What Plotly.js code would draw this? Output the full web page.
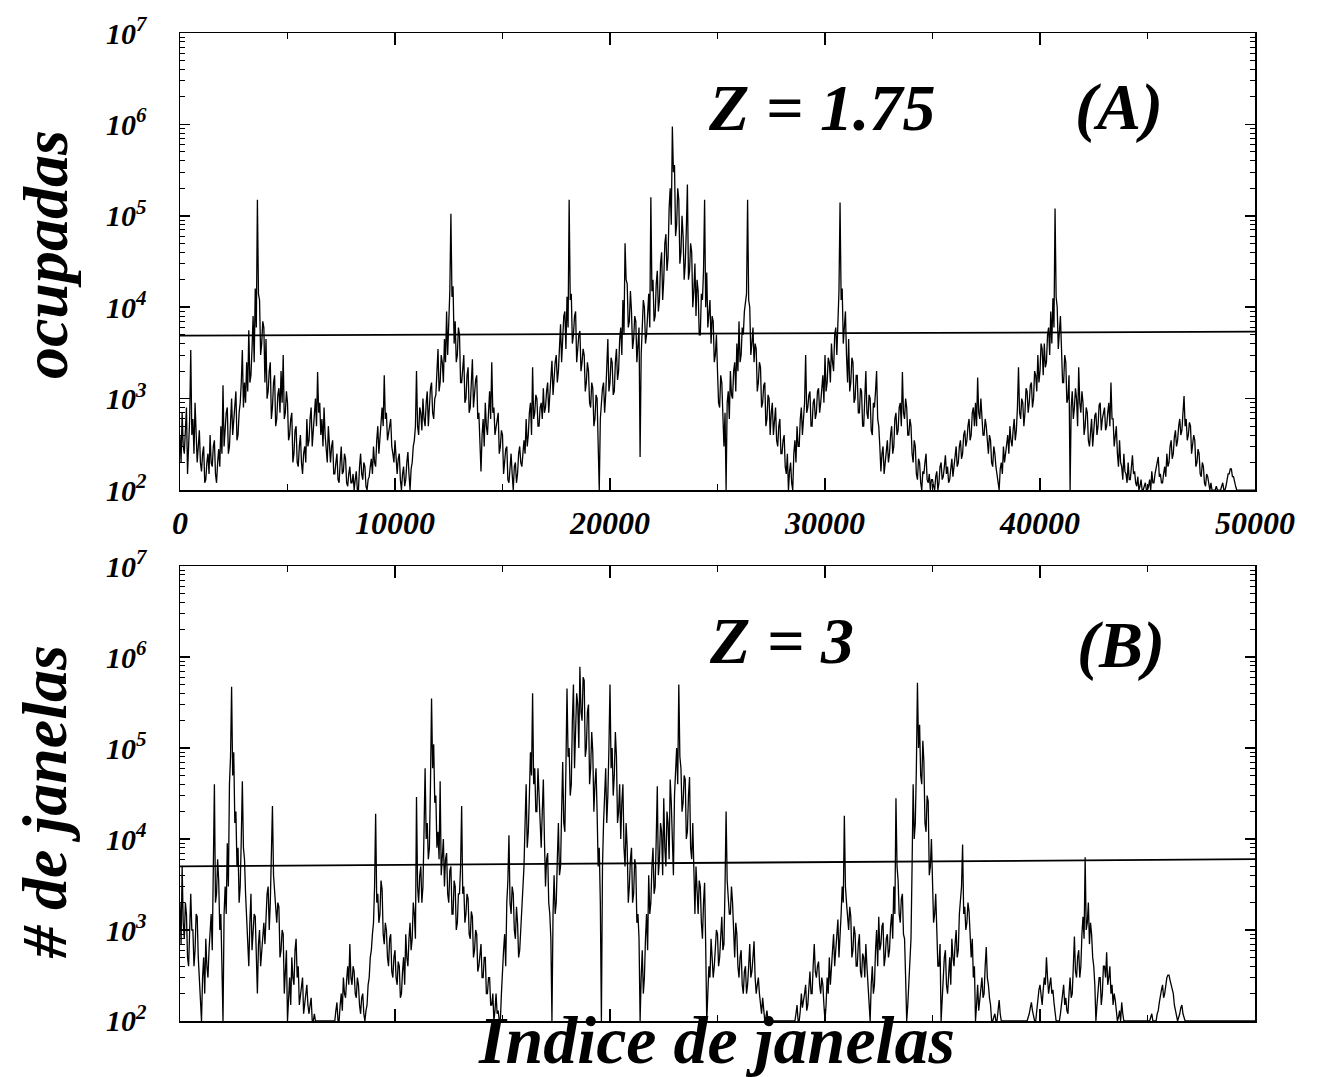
<!DOCTYPE html>
<html>
<head>
<meta charset="utf-8">
<script src="https://cdn.plot.ly/plotly-3.0.1.min.js"></script>
<style>html,body{margin:0;padding:0;background:#fff;}</style>
</head>
<body>
<div id="chart" style="width:1323px;height:1077px;"></div>
<script>
// Window index of first value and spacing between windows
const windowStart = 0;
const windowStep = 50;

// Panel A: Z = 1.75 (one row per 1000 windows)
const countsA = [
400,200,700,300,250,500,800,150,300,600,3400,400,600,250,900,400,200,300,450,200,
160,250,300,120,130,200,250,150,400,200,180,300,350,150,120,200,280,180,500,250,
1400,300,500,700,800,250,300,600,1000,400,600,900,1200,350,400,700,900,1500,3400,800,
1500,900,2500,1200,5600,1500,1800,3500,8000,2500,16000,6000,150000,14000,12000,3000,4000,7000,6000,1500,
4500,1000,1200,2000,2500,600,800,1500,1800,500,600,1100,1300,700,2000,900,3000,600,700,1200,
900,350,400,600,700,200,250,450,500,200,180,300,400,200,150,250,300,200,600,300,
350,600,800,300,500,700,1000,500,1950,700,900,400,600,300,800,400,300,200,500,250,
200,300,350,150,150,200,250,130,120,200,300,150,160,250,220,120,110,150,180,120,
120,150,100,130,160,100,100,180,250,150,130,200,180,110,100,130,140,180,220,150,
300,200,180,350,500,250,350,600,800,500,1800,600,700,350,400,500,600,300,250,200,
350,200,150,220,250,130,100,150,180,110,130,200,260,150,100,170,200,300,350,500,
2000,500,400,800,700,450,1000,600,500,900,1200,500,800,1300,1500,700,600,1000,1100,2000,
3500,1200,1500,3000,2500,1500,4500,2500,9000,3000,6000,15000,105000,13000,17000,4000,7000,2500,3000,6000,
5000,1500,1500,2500,3000,900,1000,1800,2200,700,800,1500,2700,800,1200,1600,1800,600,700,400,
160,400,600,300,900,500,400,700,1200,600,2500,700,800,400,500,650,700,250,300,450,
400,150,200,280,300,130,120,200,250,150,100,180,200,120,150,250,300,200,180,250,
350,250,600,300,400,700,900,400,2200,600,700,1100,1000,500,500,800,900,600,1300,700,
800,1200,1500,700,1000,1800,2600,1100,1800,2500,3000,1500,2000,4000,6500,2500,4000,8000,9000,3500,
13000,6000,150000,12000,14000,4000,5000,8000,9000,2500,3500,5000,5500,2000,2500,3500,3000,1200,1500,2500,
2000,900,800,1500,1300,500,600,1100,1000,400,100,600,900,1300,1500,700,1100,2000,4500,1200,
1500,2800,2500,1100,1200,2500,3500,1600,2000,4500,6000,3000,12000,5000,50000,20000,18000,6000,7000,15000,
9000,3500,4500,8000,7000,2500,3500,6000,230,3000,6000,12000,10000,4000,5000,9000,14000,6000,160000,15000,
20000,7000,8000,18000,25000,9000,12000,30000,40000,12000,20000,50000,63000,25000,35000,120000,200000,80000,950000,300000,
360000,60000,80000,200000,150000,30000,40000,100000,60000,20000,30000,70000,220000,20000,25000,50000,40000,10000,15000,30000,
8000,20000,15000,5000,5000,14000,12000,25000,150000,10000,24000,6000,9000,12000,4000,8000,7000,2500,3000,5000,
2000,900,800,1800,1500,500,300,700,100,900,1200,600,2000,1100,1000,2000,2500,1200,4000,2000,
7000,2500,3000,6000,5000,9000,11000,14000,150000,12000,10000,3000,4000,6000,2500,4000,3500,1200,1500,2500,
2200,800,900,1400,1500,500,600,1100,1000,400,700,900,400,600,800,350,300,500,600,250,
250,350,400,180,150,250,100,160,200,120,100,250,350,200,500,300,300,600,800,400,
600,900,3000,700,800,1100,1200,500,500,900,1000,600,700,1200,1300,700,900,1500,1800,900,
3000,1200,1500,2800,2500,1500,4000,2500,2000,5000,6000,3000,9000,15000,140000,12000,16000,4000,6000,9000,
3000,1500,4500,1200,1500,2800,2500,900,1000,1800,1800,700,700,1300,1200,500,500,900,2000,700,
600,1100,1000,450,400,900,800,1200,2000,600,500,300,160,250,300,150,200,300,350,200,
250,400,500,250,300,600,700,400,450,800,900,500,1950,700,600,1000,800,400,400,600,
500,250,200,350,300,150,130,220,200,120,100,160,150,200,250,130,120,150,100,130,
130,110,100,140,160,100,120,180,200,130,140,180,240,150,180,120,130,170,220,140,
180,250,300,180,200,300,350,220,250,400,450,300,350,500,600,350,400,700,800,500,
900,500,1700,700,600,1000,700,400,400,600,500,300,250,400,350,200,180,300,250,180,
150,120,100,170,200,150,300,200,250,350,400,250,500,350,300,450,600,350,450,800,
2200,700,600,1000,900,500,700,1300,1200,700,900,1400,1500,800,1000,2000,1800,1200,3000,1500,
2000,4000,3500,1800,4000,2200,2500,5000,6000,3000,9000,4000,12500,6000,120000,13000,10000,3500,5000,8000,
3500,1500,1500,3000,2500,900,1000,1800,100,800,1200,600,800,1300,1000,500,2200,900,700,1200,
900,400,500,800,700,350,300,500,600,300,400,650,700,400,500,850,900,450,600,700,
800,450,500,700,900,500,1500,600,600,300,400,500,250,180,350,200,180,130,250,160,
150,120,200,130,130,180,240,150,160,120,110,140,100,110,130,100,100,110,120,100,
100,110,130,100,160,120,120,150,180,200,230,140,150,120,120,150,180,140,250,180,
200,300,350,220,250,380,450,300,350,500,600,400,450,700,1070,500,600,350,400,550,
500,250,300,400,350,180,200,280,250,150,140,200,180,120,110,150,140,110,100,120,
100,100,100,100,110,100,100,100,100,110,120,100,100,110,130,150,150,170,170,140,
140,120,110,100,100,100,100,100,100,100,100,100,100,100,100,100,100,100,100,100,
100
];

// Panel B: Z = 3
const countsB = [
2000,700,5000,1200,800,2000,1500,500,400,900,2500,1000,1000,400,600,1500,1400,500,300,200,
100,300,500,200,800,400,300,600,900,1500,600,3000,40000,2000,2500,6000,3500,1000,1500,400,
100,1500,3000,1500,9000,3000,40000,80000,470000,50000,90000,15000,20000,5000,8000,2000,3000,10000,43000,8000,
6000,2500,1500,800,400,1200,2500,600,900,1500,1400,500,200,700,1000,400,600,900,1200,700,
1400,2500,3000,1000,2000,6000,23000,4000,2500,1500,1200,2000,1800,500,600,1000,900,200,300,600,
100,200,300,150,500,300,250,600,800,300,400,150,200,250,300,120,150,200,250,150,
120,150,180,100,100,120,100,100,100,100,100,100,100,100,100,100,100,100,100,100,
100,100,100,100,100,130,160,100,100,150,200,130,300,200,180,280,400,250,700,300,
250,400,350,200,180,300,250,150,120,180,200,120,100,130,150,250,300,500,600,900,
1200,3000,19000,2000,2500,1200,1500,3500,2800,900,700,1200,1000,500,400,800,900,350,300,500,
600,300,250,450,400,180,200,350,500,250,900,500,400,800,1200,600,800,2000,1500,800,
29000,3000,2000,4000,5000,2000,3000,12000,60000,10000,15000,6000,8000,40000,350000,60000,110000,25000,30000,8000,
12000,6000,43000,4000,6000,10000,3000,6000,7000,2500,2000,4500,5000,1500,1500,3500,3000,1000,1200,2500,
2500,5000,23000,2500,3000,1200,1500,2500,2200,900,800,1600,1400,500,600,1000,900,350,400,600,
700,300,300,500,500,200,200,300,300,150,150,200,100,130,200,120,130,100,100,200,
400,600,900,400,2000,3500,11000,2000,1500,3000,2500,1000,800,1800,1200,500,600,1000,1500,2500,
5000,15000,40000,8000,12000,30000,90000,50000,400000,40000,60000,20000,20000,60000,30000,10000,8000,20000,45000,10000,
3000,6000,7000,2000,1500,800,100,1500,4000,1500,2000,6000,15000,4000,5000,20000,70000,15000,12000,60000,
450000,80000,100000,30000,40000,200000,500000,60000,150000,400000,300000,100000,780000,250000,200000,600000,550000,80000,100000,250000,
300000,40000,60000,150000,90000,20000,40000,60000,20000,5000,8000,2000,100,5000,15000,40000,60000,15000,30000,100000,
500000,60000,100000,30000,50000,150000,80000,15000,20000,40000,10000,25000,40000,8000,5000,15000,8000,2000,3000,6000,
8000,2000,2500,6000,5000,1200,1500,800,100,300,600,200,300,800,1500,600,4000,1500,2000,5000,
8000,2500,3000,10000,38000,4000,6000,15000,12000,4000,28000,8000,5000,20000,15000,6000,45000,25000,10000,4000,
30000,60000,100000,40000,500000,80000,60000,20000,25000,50000,45000,10000,12000,30000,48000,8000,6000,15000,3000,1500,
5000,2000,1500,3500,3000,1200,800,2000,3300,700,100,200,400,300,800,500,300,400,600,1000,
900,400,500,1000,1400,600,700,3000,20000,3500,2500,1500,1500,3000,2000,800,500,1200,900,400,
300,500,600,250,200,350,400,200,250,400,700,300,350,500,750,300,200,250,300,200,
150,120,180,130,100,110,130,100,100,100,100,100,100,100,100,100,100,100,100,100,
100,100,100,100,100,100,100,100,100,100,100,100,100,120,150,100,100,130,200,140,
160,200,250,130,150,250,350,200,200,400,700,350,300,400,450,250,200,300,250,150,
100,150,300,200,500,250,350,600,900,400,600,1000,1300,500,800,1500,3000,2000,18000,3000,
2000,1200,1000,1800,1400,500,600,1100,900,400,400,700,900,350,300,550,500,300,700,400,
250,150,100,250,400,200,250,600,1000,400,1400,600,700,1100,1200,400,500,800,900,500,
600,1100,1500,800,3000,1500,28000,5000,3500,1500,1200,2200,2500,900,800,300,100,150,300,500,
800,5000,40000,10000,15000,60000,520000,100000,180000,50000,40000,120000,70000,15000,12000,30000,26000,4000,5000,10000,
3000,1200,1500,2500,1000,400,400,700,100,200,300,500,600,250,200,400,500,250,800,500,
400,700,1000,500,600,1500,2000,3000,8700,1500,1800,1000,1200,2000,1600,700,500,800,300,400,
100,150,250,130,180,250,300,180,200,400,650,300,250,180,150,100,100,110,120,100,
100,130,170,120,100,100,100,100,100,100,100,100,100,100,100,100,100,100,100,100,
100,100,100,100,100,100,100,100,100,110,120,140,160,130,110,100,100,140,180,220,
250,180,150,220,300,250,500,300,200,250,300,200,220,160,130,100,100,100,100,120,
150,200,250,150,180,130,120,200,300,180,200,400,850,350,300,500,600,300,400,900,
1400,800,6300,1000,1200,2000,700,1200,900,500,400,250,100,150,200,300,300,150,200,400,
400,300,570,250,300,400,200,250,150,200,170,120,100,110,130,100,160,120,100,100,
100,100,100,100,100,100,100,100,100,100,100,100,100,100,100,100,100,100,100,100,
100,100,100,110,120,100,100,100,100,120,130,160,180,220,250,180,200,260,300,320,
320,280,250,220,200,150,130,110,100,110,120,140,150,120,110,100,100,100,100,100,
100,100,100,100,100,100,100,100,100,100,100,100,100,100,100,100,100,100,100,100,
100,100,100,100,100,100,100,100,100,100,100,100,100,100,100,100,100,100,100,100,
100,100,100,100,100,100,100,100,100,100,100,100,100,100,100,100,100,100,100,100,
100
];

// Threshold lines (as drawn, start and end of the window range)
const thresholdX = [0, 50000];
const thresholdA = [4900, 5400];
const thresholdB = [5000, 6000];

// Axis tick labels
const xTickVals = [0, 10000, 20000, 30000, 40000, 50000];
const xTickText = ['0', '10000', '20000', '30000', '40000', '50000'];
const yTickVals = [100, 1000, 10000, 100000, 1000000, 10000000];
const yTickText = ['10<sup>2</sup>', '10<sup>3</sup>', '10<sup>4</sup>', '10<sup>5</sup>', '10<sup>6</sup>', '10<sup>7</sup>'];

const serif = 'Liberation Serif, Times New Roman, serif';
const bi = (size) => ({family: serif, size: size, color: '#000', weight: 'bold', style: 'italic'});

const traces = [
  {type: 'scatter', mode: 'lines', y: countsA, x0: windowStart, dx: windowStep,
   xaxis: 'x', yaxis: 'y', line: {color: '#000', width: 1.3}, hoverinfo: 'skip'},
  {type: 'scatter', mode: 'lines', x: thresholdX, y: thresholdA,
   xaxis: 'x', yaxis: 'y', line: {color: '#000', width: 1.8}, hoverinfo: 'skip'},
  {type: 'scatter', mode: 'lines', y: countsB, x0: windowStart, dx: windowStep,
   xaxis: 'x2', yaxis: 'y2', line: {color: '#000', width: 1.3}, hoverinfo: 'skip'},
  {type: 'scatter', mode: 'lines', x: thresholdX, y: thresholdB,
   xaxis: 'x2', yaxis: 'y2', line: {color: '#000', width: 1.8}, hoverinfo: 'skip'}
];

function xAxis(anchor, labels) {
  return {
    anchor: anchor, domain: [0, 1], range: [0, 50000],
    tickmode: 'array', tickvals: xTickVals, ticktext: xTickText,
    showticklabels: labels, tickfont: bi(32), ticklabelstandoff: 4,
    ticks: 'inside', ticklen: 12, tickwidth: 1.5, tickcolor: '#000',
    minor: {ticks: 'inside', ticklen: 6, tickwidth: 1, tickcolor: '#000', dtick: 5000, showgrid: false},
    showline: true, linecolor: '#000', linewidth: 1.5, mirror: 'allticks',
    showgrid: false, zeroline: false
  };
}
function yAxis(anchor, domain) {
  return {
    anchor: anchor, domain: domain, type: 'log', range: [2, 7],
    tickmode: 'array', tickvals: yTickVals, ticktext: yTickText,
    tickfont: bi(30), ticklabelstandoff: 26,
    ticks: 'inside', ticklen: 10, tickwidth: 1.5, tickcolor: '#000',
    minor: {ticks: 'inside', ticklen: 5, tickwidth: 1, tickcolor: '#000', dtick: 'D1', showgrid: false},
    showline: true, linecolor: '#000', linewidth: 1.5, mirror: 'allticks',
    showgrid: false, zeroline: false
  };
}

const layout = {
  width: 1323, height: 1077,
  margin: {l: 180, r: 68, t: 33, b: 56},
  paper_bgcolor: '#fff', plot_bgcolor: '#fff',
  showlegend: false,
  xaxis: xAxis('y', true),
  yaxis: yAxis('x', [0.5374, 1]),
  xaxis2: xAxis('y2', false),
  yaxis2: yAxis('x2', [0, 0.4605]),
  annotations: [
    {text: 'Z = 1.75', xref: 'paper', yref: 'paper', x: 0.5967, y: 0.925, showarrow: false, font: bi(66), xanchor: 'center', yanchor: 'middle'},
    {text: '(A)', xref: 'paper', yref: 'paper', x: 0.8736, y: 0.925, showarrow: false, font: bi(66), xanchor: 'center', yanchor: 'middle'},
    {text: 'Z = 3', xref: 'paper', yref: 'paper', x: 0.5595, y: 0.3856, showarrow: false, font: bi(66), xanchor: 'center', yanchor: 'middle'},
    {text: '(B)', xref: 'paper', yref: 'paper', x: 0.8755, y: 0.3806, showarrow: false, font: bi(66), xanchor: 'center', yanchor: 'middle'},
    {text: 'ocupadas', xref: 'paper', yref: 'paper', x: -0.1255, y: 0.7753, textangle: -90, showarrow: false, font: bi(64), xanchor: 'center', yanchor: 'middle'},
    {text: '# de janelas', xref: 'paper', yref: 'paper', x: -0.1255, y: 0.2217, textangle: -90, showarrow: false, font: bi(64), xanchor: 'center', yanchor: 'middle'},
    {text: 'Indice de janelas', xref: 'paper', yref: 'paper', x: 0.499, y: -0.0192, showarrow: false, font: bi(68), xanchor: 'center', yanchor: 'middle'}
  ]
};

Plotly.newPlot('chart', traces, layout, {displayModeBar: false, staticPlot: true});
</script>
</body>
</html>
